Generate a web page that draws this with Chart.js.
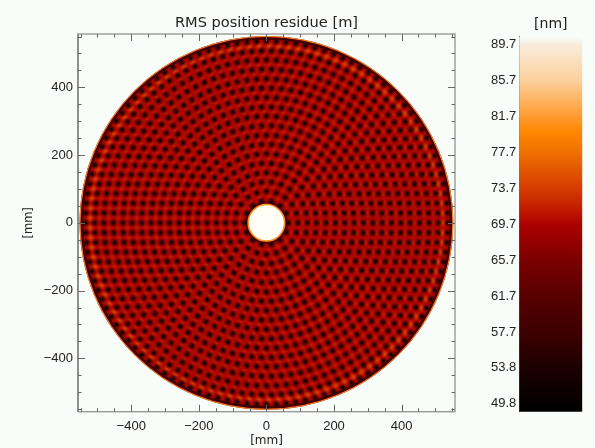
<!DOCTYPE html>
<html>
<head>
<meta charset="utf-8">
<title>RMS position residue</title>
<script src="https://cdn.jsdelivr.net/npm/chart.js@4/dist/chart.umd.min.js"></script>
<style>
  html, body { margin: 0; padding: 0; background: #f8fdf9; }
  #wrap { position: relative; width: 595px; height: 448px; overflow: hidden; }
  canvas { position: absolute; top: 0; }
  #mapChart { left: 0; }
  #barChart { left: 480px; }
</style>
</head>
<body>
<div id="wrap">
  <canvas id="mapChart" width="595" height="448"></canvas>
  <canvas id="barChart" width="115" height="448"></canvas>
</div>
<script>
// axes [mm]
const axisTicks = [-550, -500, -450, -400, -350, -300, -250, -200, -150, -100, -50, 0, 50, 100, 150, 200, 250, 300, 350, 400, 450, 500, 550];
const axisLabels = [-400, -200, 0, 200, 400];

// annulus edges [mm]
const diskOuter = 553;
const diskInner = 54;

// minima of the map, read ring by ring: radius [mm], number of spots, start angle [deg]
const ringRadii = [65, 93, 121, 148, 176, 204, 232, 259, 287, 315, 342, 370, 398, 425, 453, 481, 508, 536];
const ringCounts = [14, 20, 26, 32, 38, 44, 50, 56, 62, 68, 74, 80, 86, 92, 98, 104, 110, 116];
const ringStart = [0, 0, 0, 0, 0, 0, 0, 0, 0, 0, 0, 0, 0, 0, 0, 0, 0, 0];

// faint maxima between the rings
const ridgeRadii = [79, 107, 135, 162, 190, 218, 245, 273, 301, 328, 356, 384, 411, 439, 467, 494];
const ridgeCounts = [17, 23, 29, 35, 41, 47, 53, 59, 65, 71, 77, 83, 89, 95, 101, 107];

// brighter orange maxima inside the rim
const glowRadii = [522];
const glowCounts = [113];

// colour bar
const barTicks = [49.8, 53.8, 57.7, 61.7, 65.7, 69.7, 73.7, 77.7, 81.7, 85.7, 89.7];
const barMin = 48.83;
const barMax = 90.6;
const barValues = [48.83, 53.8, 57, 61.7, 65.7, 69.7, 71.7, 73.7, 77.7, 80, 81.7, 85.7, 89.7, 90.6];
const barColors = ['#000000', '#1c0000', '#380000', '#580000', '#7c0000', '#ad0000', '#c42000', '#d43c00', '#f07000', '#ff8800', '#ff9a30', '#fcd09c', '#f8ecdc', '#f8fdf9'];

const FONT = 'Liberation Sans';
const TITLE_FONT = 'DejaVu Sans';
const TEXT = '#222222';

function spot(size, inner, outer, hold) {
  const c = document.createElement('canvas');
  c.width = c.height = size;
  const g = c.getContext('2d');
  const r = size / 2;
  const grad = g.createRadialGradient(r, r, 0, r, r, r);
  grad.addColorStop(0, inner);
  grad.addColorStop(hold, inner);
  grad.addColorStop(1, outer);
  g.fillStyle = grad;
  g.fillRect(0, 0, size, size);
  return c;
}

function ringPoints(radii, counts, starts) {
  const pts = [];
  radii.forEach((r, i) => {
    const a0 = (starts ? starts[i] : 0) * Math.PI / 180;
    for (let k = 0; k < counts[i]; k++) {
      const a = a0 + 2 * Math.PI * k / counts[i];
      pts.push({ x: r * Math.cos(a), y: r * Math.sin(a) });
    }
  });
  return pts;
}

const darkSpot = spot(9, 'rgba(18,0,0,0.96)', 'rgba(60,0,0,0)', 0.2);
const ridgeSpot = spot(7, 'rgba(214,40,0,0.55)', 'rgba(200,30,0,0)', 0.1);
const glowSpot = spot(10, 'rgba(240,90,0,0.7)', 'rgba(220,50,0,0)', 0.1);

const mapPlugin = {
  id: 'mapPlugin',
  beforeDatasetsDraw(chart) {
    const { ctx, scales: { x, y } } = chart;
    const cx = x.getPixelForValue(0);
    const cy = y.getPixelForValue(0);
    const outer = x.getPixelForValue(diskOuter) - cx;
    ctx.save();
    // disc base
    ctx.fillStyle = '#ae0600';
    ctx.beginPath();
    ctx.arc(cx, cy, outer, 0, Math.PI * 2);
    ctx.fill();
    // rim
    ctx.lineWidth = 2.5;
    ctx.strokeStyle = 'rgba(30,0,0,0.7)';
    ctx.beginPath();
    ctx.arc(cx, cy, outer - 2.5, 0, Math.PI * 2);
    ctx.stroke();
    ctx.lineWidth = 1;
    ctx.strokeStyle = '#ec9030';
    ctx.beginPath();
    ctx.arc(cx, cy, outer - 0.4, 0, Math.PI * 2);
    ctx.stroke();
    ctx.restore();
  },
  afterDatasetsDraw(chart) {
    const { ctx, chartArea: a, scales: { x, y } } = chart;
    const cx = x.getPixelForValue(0);
    const cy = y.getPixelForValue(0);
    const r = x.getPixelForValue(diskInner) - cx;
    ctx.save();
    // central hole
    ctx.strokeStyle = 'rgba(30,0,0,0.6)';
    ctx.lineWidth = 2;
    ctx.beginPath();
    ctx.arc(cx, cy, r + 2, 0, Math.PI * 2);
    ctx.stroke();
    ctx.fillStyle = '#fffff6';
    ctx.strokeStyle = '#f59020';
    ctx.lineWidth = 1.5;
    ctx.beginPath();
    ctx.arc(cx, cy, r, 0, Math.PI * 2);
    ctx.fill();
    ctx.stroke();
    // box and ticks on all four sides
    ctx.strokeStyle = '#9a9a9a';
    ctx.lineWidth = 1.4;
    ctx.strokeRect(a.left, a.top, a.right - a.left, a.bottom - a.top);
    ctx.strokeStyle = '#666666';
    ctx.lineWidth = 1;
    ctx.beginPath();
    ctx.moveTo(a.left, a.top); ctx.lineTo(a.left, a.bottom);
    axisTicks.forEach(t => {
      const len = axisLabels.includes(t) ? 7 : 3.5;
      const px = Math.round(x.getPixelForValue(t)) + 0.5;
      const py = Math.round(y.getPixelForValue(t)) + 0.5;
      ctx.moveTo(px, a.bottom); ctx.lineTo(px, a.bottom - len);
      ctx.moveTo(px, a.top); ctx.lineTo(px, a.top + len);
      ctx.moveTo(a.left, py); ctx.lineTo(a.left + len, py);
      ctx.moveTo(a.right, py); ctx.lineTo(a.right - len, py);
    });
    ctx.stroke();
    ctx.restore();
  }
};

function axisLabel(v) {
  if (!axisLabels.includes(v)) return '';
  return v < 0 ? '\u2212' + Math.abs(v) : String(v);
}

new Chart(document.getElementById('mapChart'), {
  type: 'scatter',
  data: {
    datasets: [
      { label: 'minima', data: ringPoints(ringRadii, ringCounts, ringStart), pointStyle: darkSpot, order: 1 },
      { label: 'ridge', data: ringPoints(ridgeRadii, ridgeCounts), pointStyle: ridgeSpot, order: 2 },
      { label: 'glow', data: ringPoints(glowRadii, glowCounts), pointStyle: glowSpot, order: 3 }
    ]
  },
  options: {
    responsive: false,
    animation: false,
    events: [],
    layout: { padding: { right: 140, left: 0, top: 0, bottom: 0 } },
    plugins: {
      legend: { display: false },
      tooltip: { enabled: false },
      title: {
        display: true,
        text: 'RMS position residue [m]',
        fullSize: false,
        color: TEXT,
        font: { family: TITLE_FONT, size: 14.6, weight: 'normal', lineHeight: 1.2 },
        padding: { top: 14, bottom: 2.5 }
      }
    },
    scales: {
      x: {
        type: 'linear',
        min: -557.5,
        max: 558,
        afterBuildTicks: s => { s.ticks = axisTicks.map(v => ({ value: v })); },
        afterFit: s => { s.height = 36.3; },
        grid: { display: false, drawTicks: false },
        border: { display: false },
        ticks: { autoSkip: false, maxRotation: 0, padding: 7, color: TEXT, font: { family: FONT, size: 13 }, callback: axisLabel },
        title: { display: true, text: '[mm]', color: TEXT, font: { family: TITLE_FONT, size: 12 }, padding: { top: 0, bottom: 0 } }
      },
      y: {
        type: 'linear',
        min: -557.5,
        max: 557.5,
        afterBuildTicks: s => { s.ticks = axisTicks.map(v => ({ value: v })); },
        afterFit: s => { s.width = 78; },
        grid: { display: false, drawTicks: false },
        border: { display: false },
        ticks: { autoSkip: false, padding: 5, color: TEXT, font: { family: FONT, size: 13 }, callback: axisLabel },
        title: { display: true, text: '[mm]', color: TEXT, font: { family: TITLE_FONT, size: 11.5 }, padding: { top: 22, bottom: 0 } }
      }
    }
  },
  plugins: [mapPlugin]
});

function barFill(ctx) {
  const { chartArea, scales } = ctx.chart;
  if (!chartArea) return barColors[0];
  const grad = ctx.chart.ctx.createLinearGradient(0, scales.y.getPixelForValue(barMin), 0, scales.y.getPixelForValue(barMax));
  barValues.forEach((v, i) => grad.addColorStop((v - barMin) / (barMax - barMin), barColors[i]));
  return grad;
}

new Chart(document.getElementById('barChart'), {
  type: 'bar',
  data: {
    labels: ['[nm]'],
    datasets: [{
      data: [[barMin, barMax]],
      backgroundColor: barFill,
      borderWidth: 0,
      barPercentage: 1,
      categoryPercentage: 1
    }]
  },
  options: {
    responsive: false,
    animation: false,
    events: [],
    layout: { padding: { right: 12.7, left: 0, top: 0, bottom: 36.3 } },
    plugins: {
      legend: { display: false },
      tooltip: { enabled: false },
      title: {
        display: true,
        text: '[nm]',
        fullSize: false,
        color: TEXT,
        font: { family: TITLE_FONT, size: 14, weight: 'normal', lineHeight: 1.2 },
        padding: { top: 15.5, bottom: 4.4 }
      }
    },
    scales: {
      x: { display: false },
      y: {
        min: barMin,
        max: barMax,
        afterBuildTicks: s => { s.ticks = barTicks.map(v => ({ value: v })); },
        afterFit: s => { s.width = 39.3; },
        grid: { display: false, drawTicks: false },
        border: { display: true, color: '#777777', width: 1 },
        ticks: { autoSkip: false, padding: 3, color: TEXT, font: { family: FONT, size: 13 }, callback: v => v.toFixed(1) }
      }
    }
  }
});
</script>
</body>
</html>
